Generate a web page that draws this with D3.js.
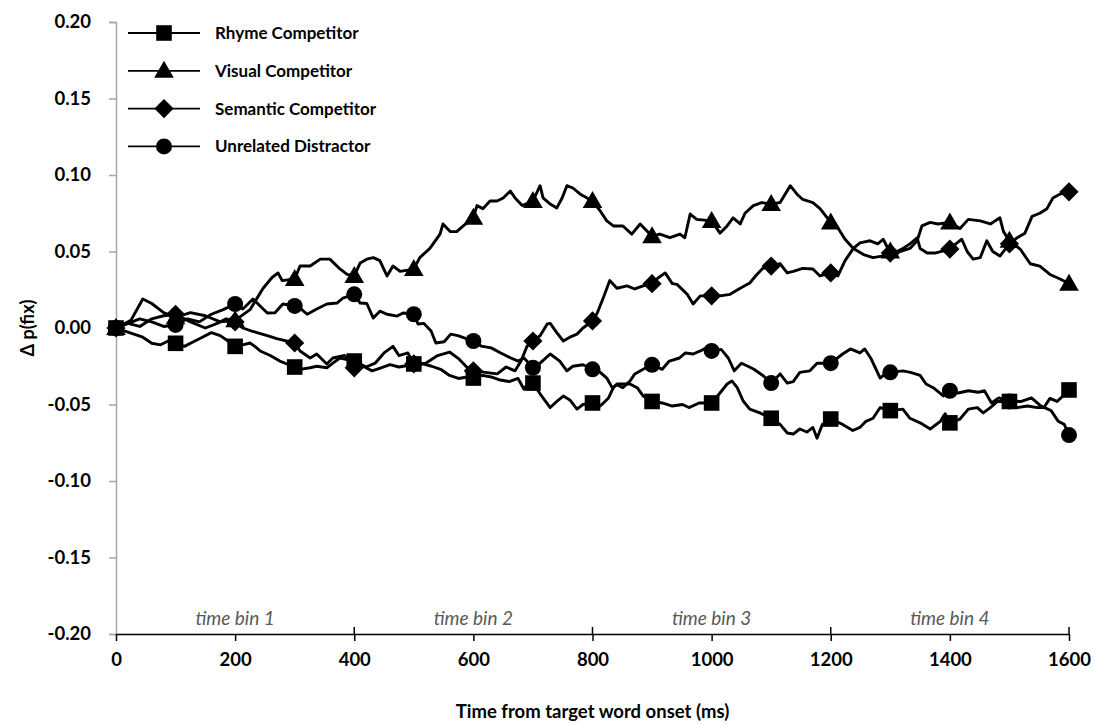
<!DOCTYPE html>
<html>
<head>
<meta charset="utf-8">
<script src="https://cdn.jsdelivr.net/npm/d3@7/dist/d3.min.js"></script>
<style>
  html, body { margin: 0; padding: 0; background: #fff; }
  svg { display: block; }
  text { font-family: Lato, "Open Sans", sans-serif; }
</style>
</head>
<body>
<svg id="chart" width="1095" height="724"></svg>
<script>
// Change in fixation proportion over time, [ms, value]
const rhyme = [
  [0,0],[15,-0.002],[30,-0.004],[45,-0.006],[60,-0.010],[75,-0.011],[90,-0.008],[100,-0.010],
  [115,-0.012],[130,-0.009],[145,-0.006],[160,-0.003],[175,-0.005],[190,-0.009],[200,-0.012],
  [213,-0.011],[225,-0.0098],[233,-0.012],[242,-0.015],[259,-0.018],[275,-0.0216],[300,-0.0255],
  [309,-0.027],[326,-0.026],[337,-0.025],[354,-0.026],[364,-0.023],[376,-0.0196],[400,-0.0216],
  [415,-0.025],[430,-0.028],[445,-0.026],[460,-0.024],[475,-0.0255],[490,-0.0245],[500,-0.0235],
  [515,-0.0235],[530,-0.025],[545,-0.027],[560,-0.031],[575,-0.033],[590,-0.032],[600,-0.0327],
  [615,-0.031],[630,-0.032],[645,-0.034],[660,-0.035],[675,-0.033],[685,-0.040],[695,-0.034],[700,-0.036],
  [712,-0.043],[729,-0.052],[740,-0.048],[751,-0.0445],[762,-0.047],[774,-0.053],[784,-0.050],[800,-0.049],
  [813,-0.051],[827,-0.0457],[835,-0.039],[841,-0.0366],[863,-0.0366],[875,-0.039],[885,-0.0444],[900,-0.048],
  [917,-0.049],[934,-0.051],[951,-0.050],[962,-0.052],[979,-0.049],[1000,-0.049],
  [1014,-0.0425],[1026,-0.0366],[1034,-0.0346],[1043,-0.039],[1053,-0.0477],[1064,-0.053],[1081,-0.0555],[1100,-0.059],
  [1115,-0.063],[1127,-0.0686],[1137,-0.0693],[1148,-0.066],[1160,-0.068],[1170,-0.065],[1177,-0.072],[1186,-0.063],[1200,-0.0595],
  [1220,-0.063],[1237,-0.067],[1249,-0.065],[1259,-0.061],[1271,-0.059],[1283,-0.052],[1300,-0.054],
  [1321,-0.053],[1333,-0.059],[1350,-0.062],[1367,-0.066],[1384,-0.061],[1392,-0.056],[1400,-0.062],
  [1417,-0.0595],[1431,-0.053],[1446,-0.052],[1456,-0.0555],[1468,-0.052],[1480,-0.048],[1500,-0.048],
  [1513,-0.052],[1530,-0.051],[1547,-0.052],[1558,-0.052],[1568,-0.046],[1580,-0.048],[1590,-0.0444],[1600,-0.0405]
];

const visual = [
  [0,0],[25,0.005],[45,0.019],[60,0.016],[80,0.010],[100,0.007],[125,0.010],[150,0.008],[175,0.004],[200,0.005],
  [225,0.012],[247,0.026],[262,0.033],[272,0.036],[279,0.031],[300,0.032],
  [309,0.0405],[326,0.0405],[343,0.045],[359,0.045],[376,0.0386],[388,0.035],[400,0.034],
  [410,0.0425],[421,0.045],[432,0.046],[443,0.044],[455,0.034],[465,0.0405],[477,0.037],[500,0.0385],
  [510,0.046],[527,0.052],[544,0.0614],[549,0.068],[561,0.063],[572,0.063],[583,0.0667],[600,0.072],
  [606,0.080],[616,0.078],[628,0.083],[640,0.083],[650,0.085],[662,0.0895],[670,0.085],[682,0.080],[700,0.083],
  [712,0.093],[717,0.085],[729,0.081],[740,0.0785],[749,0.085],[757,0.093],[767,0.0915],[779,0.0876],[800,0.083],
  [813,0.0765],[824,0.070],[835,0.0667],[851,0.0667],[866,0.0614],[880,0.068],[900,0.060],
  [913,0.0614],[930,0.059],[947,0.0614],[955,0.059],[964,0.0745],[975,0.071],[1000,0.070],
  [1014,0.062],[1026,0.0667],[1036,0.072],[1048,0.068],[1056,0.075],[1070,0.080],[1084,0.082],[1100,0.081],
  [1115,0.082],[1132,0.093],[1143,0.0876],[1153,0.084],[1170,0.082],[1182,0.078],[1200,0.069],
  [1210,0.0667],[1224,0.058],[1238,0.052],[1255,0.048],[1271,0.046],[1286,0.047],[1300,0.050],
  [1316,0.050],[1333,0.052],[1345,0.057],[1353,0.0667],[1367,0.069],[1380,0.068],[1400,0.069],
  [1417,0.065],[1431,0.071],[1451,0.070],[1468,0.068],[1484,0.072],[1490,0.063],[1500,0.057],
  [1518,0.0516],[1535,0.042],[1551,0.0405],[1568,0.035],[1585,0.032],[1600,0.029]
];

const semantic = [
  [0,0],[20,0.003],[40,0.001],[60,0.006],[80,0.008],[100,0.009],[125,0.004],[150,0.000],[170,0.003],[185,0.006],[200,0.004],
  [213,0.000],[228,-0.002],[254,-0.005],[270,-0.007],[300,-0.0098],
  [309,-0.015],[326,-0.0196],[337,-0.017],[354,-0.0235],[364,-0.0196],[384,-0.018],[400,-0.026],
  [410,-0.0235],[420,-0.0255],[435,-0.023],[450,-0.0163],[465,-0.012],[475,-0.018],[490,-0.0163],[500,-0.0235],
  [520,-0.023],[540,-0.018],[560,-0.0157],[575,-0.020],[590,-0.026],[600,-0.028],
  [620,-0.029],[640,-0.030],[655,-0.0255],[670,-0.028],[680,-0.0216],[690,-0.012],[700,-0.0085],
  [712,-0.005],[724,0.0026],[729,0.003],[740,-0.003],[751,-0.0085],[762,-0.006],[774,-0.004],[784,0.000],[800,0.0046],
  [808,0.0098],[818,0.0196],[829,0.031],[841,0.026],[858,0.0275],[871,0.0255],[885,0.0275],[900,0.029],
  [910,0.0327],[922,0.036],[934,0.029],[942,0.0285],[959,0.022],[969,0.0157],[981,0.021],[1000,0.021],
  [1014,0.021],[1031,0.022],[1048,0.026],[1064,0.0294],[1076,0.035],[1086,0.039],[1100,0.0405],
  [1115,0.042],[1127,0.036],[1137,0.037],[1153,0.039],[1170,0.0386],[1182,0.034],[1200,0.036],
  [1212,0.034],[1224,0.044],[1238,0.052],[1249,0.0556],[1266,0.057],[1279,0.055],[1288,0.058],[1300,0.049],
  [1311,0.050],[1321,0.052],[1333,0.055],[1345,0.059],[1350,0.052],[1362,0.049],[1375,0.049],[1400,0.0516],
  [1412,0.0556],[1420,0.058],[1429,0.050],[1439,0.045],[1451,0.046],[1462,0.057],[1472,0.050],[1484,0.047],[1500,0.055],
  [1513,0.059],[1526,0.062],[1538,0.073],[1551,0.075],[1563,0.078],[1573,0.085],[1585,0.0876],[1600,0.089]
];

const unrelated = [
  [0,0],[20,0.003],[40,0.006],[60,0.004],[80,0.001],[100,0.002],[120,0.006],[140,0.004],[160,0.009],[180,0.012],[200,0.0157],
  [213,0.0124],[230,0.019],[242,0.0144],[254,0.0098],[267,0.010],[280,0.0157],[300,0.0144],
  [309,0.013],[321,0.009],[337,0.0124],[354,0.0157],[371,0.0163],[381,0.0196],[400,0.022],
  [410,0.0163],[421,0.016],[432,0.0065],[443,0.011],[455,0.009],[472,0.0078],[482,0.0098],[500,0.009],
  [507,0.0026],[517,0.003],[529,-0.002],[537,-0.0098],[551,-0.009],[562,-0.004],[574,-0.005],[600,-0.0085],
  [613,-0.0118],[630,-0.013],[646,-0.0163],[663,-0.0196],[675,-0.0216],[685,-0.0196],[700,-0.026],
  [712,-0.023],[729,-0.017],[745,-0.0216],[757,-0.028],[767,-0.025],[784,-0.024],[800,-0.027],
  [813,-0.029],[824,-0.0327],[833,-0.039],[841,-0.037],[851,-0.039],[863,-0.0346],[871,-0.030],[885,-0.027],[900,-0.024],
  [917,-0.027],[929,-0.0216],[946,-0.0196],[956,-0.0163],[969,-0.017],[981,-0.015],[991,-0.013],[1000,-0.015],
  [1016,-0.014],[1028,-0.0196],[1038,-0.028],[1050,-0.023],[1061,-0.025],[1071,-0.027],[1086,-0.031],[1100,-0.036],
  [1115,-0.030],[1127,-0.036],[1137,-0.035],[1148,-0.029],[1165,-0.028],[1177,-0.023],[1200,-0.023],
  [1220,-0.017],[1233,-0.0137],[1249,-0.0163],[1257,-0.0137],[1267,-0.0196],[1283,-0.0327],[1291,-0.030],[1300,-0.029],
  [1321,-0.028],[1334,-0.029],[1350,-0.031],[1360,-0.0366],[1372,-0.039],[1389,-0.0444],[1400,-0.041],
  [1414,-0.0425],[1431,-0.041],[1448,-0.042],[1458,-0.041],[1470,-0.049],[1482,-0.0457],[1500,-0.048],
  [1520,-0.048],[1537,-0.0457],[1553,-0.051],[1570,-0.054],[1582,-0.061],[1592,-0.063],[1600,-0.070]
];

const seriesNames = ["Rhyme Competitor", "Visual Competitor", "Semantic Competitor", "Unrelated Distractor"];
const seriesShapes = ["square", "triangle", "diamond", "circle"];
const yTicks = [-0.20, -0.15, -0.10, -0.05, 0.00, 0.05, 0.10, 0.15, 0.20];
const xTicks = [0, 200, 400, 600, 800, 1000, 1200, 1400, 1600];
const binEdges = [400, 800, 1200, 1600];
const binLabels = ["time bin 1", "time bin 2", "time bin 3", "time bin 4"];
const binCenters = [200, 600, 1000, 1400];
const markerStep = 100;

const svg = d3.select("#chart");
const plotLeft = 116, plotRight = 1069, plotTop = 22, plotBottom = 634;

const x = d3.scaleLinear().domain([0, 1600]).range([plotLeft, plotRight]);
const y = d3.scaleLinear().domain([-0.2, 0.2]).range([plotBottom, plotTop]);

// y axis (grey)
const yAxis = svg.append("g").attr("transform", `translate(${plotLeft},0)`)
  .call(d3.axisLeft(y).tickValues(yTicks)
    .tickFormat(d => d3.format(".2f")(d).replace("\u2212", "-"))
    .tickSize(7).tickPadding(18));
yAxis.select(".domain").attr("stroke", "#a6a6a6").attr("stroke-width", 1.5);
yAxis.selectAll(".tick line").attr("stroke", "#a6a6a6").attr("stroke-width", 1.5);
yAxis.selectAll(".tick text").attr("font-size", 18.5).attr("font-weight", 700).attr("fill", "#000");

// x axis (black) at the bottom
const xAxis = svg.append("g").attr("transform", `translate(0,${plotBottom})`)
  .call(d3.axisBottom(x).tickValues(xTicks).tickFormat(d3.format("d"))
    .tickSize(7).tickPadding(12).tickSizeOuter(0));
xAxis.select(".domain").attr("stroke", "#000").attr("stroke-width", 1.5);
xAxis.selectAll(".tick line").attr("stroke", "#000").attr("stroke-width", 1.5);
xAxis.selectAll(".tick text").attr("font-size", 18.5).attr("font-weight", 700).attr("fill", "#000");

// upward ticks marking the time-bin boundaries
svg.append("g").selectAll("line").data(binEdges).join("line")
  .attr("x1", d => x(d)).attr("x2", d => x(d))
  .attr("y1", plotBottom - 7).attr("y2", plotBottom)
  .attr("stroke", "#000").attr("stroke-width", 1.5);

// time bin labels
svg.append("g").selectAll("text").data(binLabels).join("text")
  .attr("x", (d, i) => x(binCenters[i]))
  .attr("y", plotBottom - 9)
  .attr("text-anchor", "middle")
  .attr("font-size", 19).attr("font-style", "italic").attr("fill", "#595959")
  .text(d => d);

// axis titles
svg.append("text")
  .attr("x", (plotLeft + plotRight) / 2).attr("y", 718)
  .attr("text-anchor", "middle").attr("font-size", 18.5).attr("font-weight", 700)
  .text("Time from target word onset (ms)");
svg.append("text")
  .attr("transform", `translate(34,${y(0)}) rotate(-90)`)
  .attr("text-anchor", "middle").attr("font-size", 18).attr("font-weight", 700)
  .text("Δ p(fix)");

// marker shapes
function markerPath(shape) {
  const p = d3.path();
  if (shape === "square") {
    const s = 7.8; p.rect(-s, -s, 2 * s, 2 * s);
  } else if (shape === "triangle") {
    p.moveTo(0, -10); p.lineTo(9.8, 7); p.lineTo(-9.8, 7); p.closePath();
  } else if (shape === "diamond") {
    const s = 9.6; p.moveTo(0, -s); p.lineTo(s, 0); p.lineTo(0, s); p.lineTo(-s, 0); p.closePath();
  } else {
    p.arc(0, 0, 8, 0, 2 * Math.PI);
  }
  return p.toString();
}

const line = d3.line().x(d => x(d[0])).y(d => y(d[1]));
const allSeries = [rhyme, visual, semantic, unrelated];

const plot = svg.append("g");
allSeries.forEach((data) => {
  plot.append("path").datum(data)
    .attr("d", line).attr("fill", "none")
    .attr("stroke", "#000").attr("stroke-width", 2.9).attr("stroke-linejoin", "round");
});
allSeries.forEach((data, i) => {
  plot.append("g").selectAll("path")
    .data(data.filter(d => d[0] % markerStep === 0))
    .join("path")
    .attr("transform", d => `translate(${x(d[0])},${y(d[1])})`)
    .attr("d", markerPath(seriesShapes[i]))
    .attr("fill", "#000");
});

// legend
const legend = svg.append("g");
seriesNames.forEach((name, i) => {
  const ly = 33 + i * 37.8;
  legend.append("line").attr("x1", 128).attr("x2", 200).attr("y1", ly).attr("y2", ly)
    .attr("stroke", "#000").attr("stroke-width", 1.8);
  legend.append("path").attr("transform", `translate(164,${ly})`)
    .attr("d", markerPath(seriesShapes[i])).attr("fill", "#000");
  legend.append("text").attr("x", 215).attr("y", ly).attr("dy", "0.35em")
    .attr("font-size", 17).attr("font-weight", 700).text(name);
});
</script>
</body>
</html>
